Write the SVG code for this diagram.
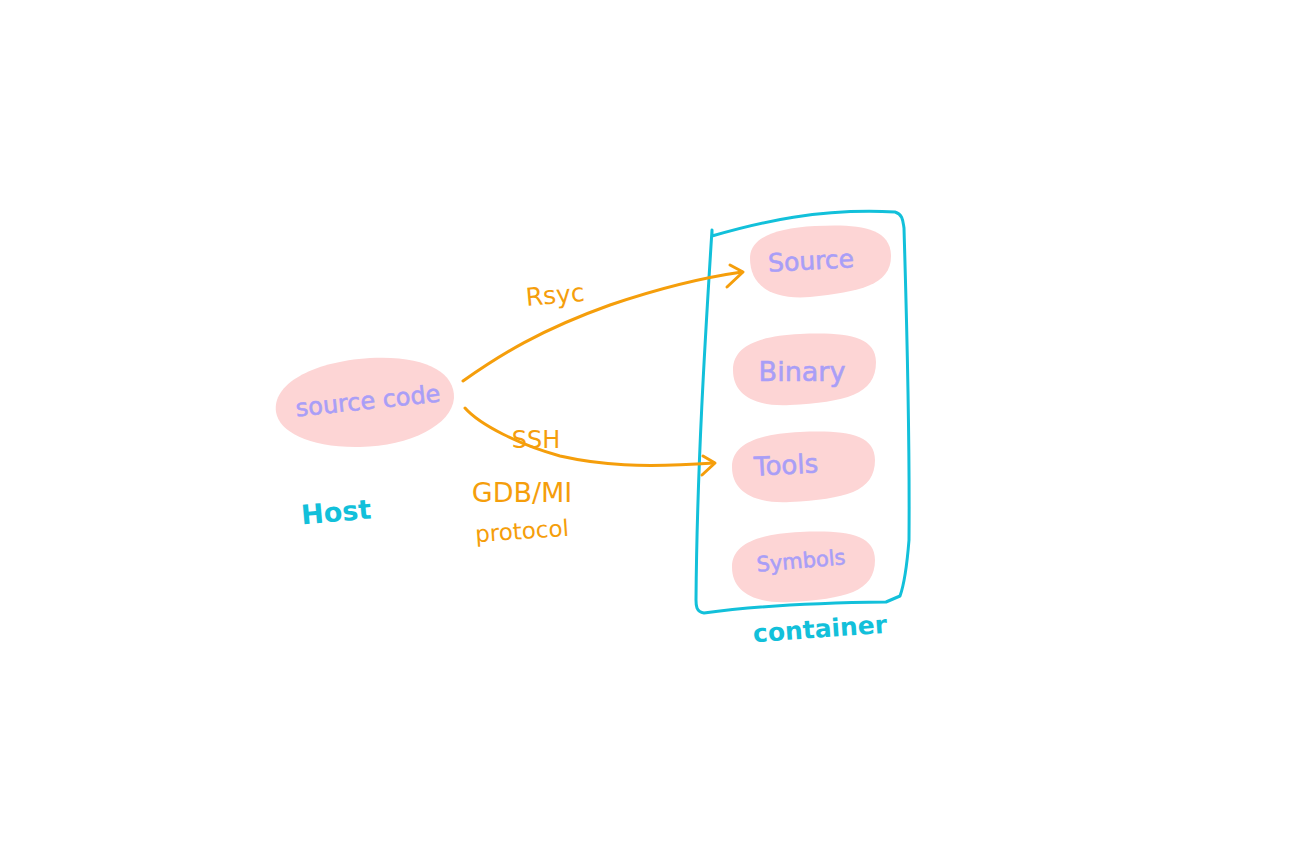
<svg xmlns="http://www.w3.org/2000/svg" width="1292" height="846" viewBox="0 0 1292 846">
<style>
.blob{fill:#fdd5d5;stroke:none}
.lbl{font-family:"DejaVu Sans","Liberation Sans",sans-serif;fill:#a99ef7;stroke:#a99ef7;stroke-width:0.6;text-anchor:middle;dominant-baseline:central}
.org{font-family:"DejaVu Sans","Liberation Sans",sans-serif;fill:#f59e0b;text-anchor:middle;dominant-baseline:central}
.cyt{font-family:"DejaVu Sans","Liberation Sans",sans-serif;fill:#12c0da;text-anchor:middle;dominant-baseline:central;font-weight:bold}
.conn{fill:none;stroke:#f59e0b;stroke-width:3;stroke-linecap:round;stroke-linejoin:round}
.box{fill:none;stroke:#12c0da;stroke-width:3;stroke-linecap:round;stroke-linejoin:round}
</style>
<rect width="1292" height="846" fill="#ffffff"/>
<g id="host">
<path class="blob" d="M276,412 C272,385 310,362 370,358 C425,355 455,372 454,398 C452,425 410,446 360,447 C310,448 279,432 276,412 Z"/>
<text class="lbl" x="368" y="401" font-size="24" transform="rotate(-6 368 401)">source code</text>
<text class="cyt" x="336" y="512" font-size="27" transform="rotate(-5 336 512)">Host</text>
</g>
<g id="container">
<path class="box" d="M712,230 L712,236 C760,222 820,208 895,212 C903,214 903,222 904,228 C906,300 910,420 909,540 C907,565 904,585 900,596 L886,602 C800,603 740,608 704,613 C696,612 696,605 696,600 C697,470 705,340 712,230"/>
<text class="cyt" x="820" y="629" font-size="25" transform="rotate(-4 820 629)">container</text>
</g>
<g id="source">
<path class="blob" d="M750,258 C750,238 775,228 815,226 C855,224 890,226 891,255 C892,285 860,292 810,297 C770,300 750,285 750,258 Z"/>
<text class="lbl" x="811" y="261" font-size="25" transform="rotate(-3 811 261)">Source</text>
</g>
<g id="binary">
<path class="blob" d="M733,370 C733,345 760,336 800,334 C845,332 876,336 876,362 C876,395 845,402 790,405 C755,407 733,395 733,370 Z"/>
<text class="lbl" x="802" y="371" font-size="27">Binary</text>
</g>
<g id="tools">
<path class="blob" d="M732,467 C732,443 760,434 800,432 C845,430 875,434 875,460 C875,492 845,499 790,502 C755,504 732,492 732,467 Z"/>
<text class="lbl" x="786" y="465" font-size="26" transform="rotate(-3 786 465)">Tools</text>
</g>
<g id="symbols">
<path class="blob" d="M732,567 C732,543 760,534 800,532 C845,530 875,534 875,560 C875,592 845,599 790,602 C755,604 732,592 732,567 Z"/>
<text class="lbl" x="801" y="561" font-size="21" transform="rotate(-5 801 561)">Symbols</text>
</g>
<g id="connectors">
<path class="conn" d="M463,381 C500,355 540,330 610,305 C660,288 700,278 742,272"/>
<path class="conn" d="M730,265 L743,272 L727,287"/>
<path class="conn" d="M465,408 C480,425 520,445 560,456 C600,465 640,468 714,463"/>
<path class="conn" d="M703,456 L715,463 L702,475"/>
<text class="org" x="555" y="295" font-size="25" transform="rotate(-5 555 295)">Rsyc</text>
<text class="org" x="536" y="440" font-size="24">SSH</text>
<text class="org" x="522" y="492" font-size="27">GDB/MI</text>
<text class="org" x="522" y="531" font-size="23" transform="rotate(-4 522 531)">protocol</text>
</g>
</svg>
